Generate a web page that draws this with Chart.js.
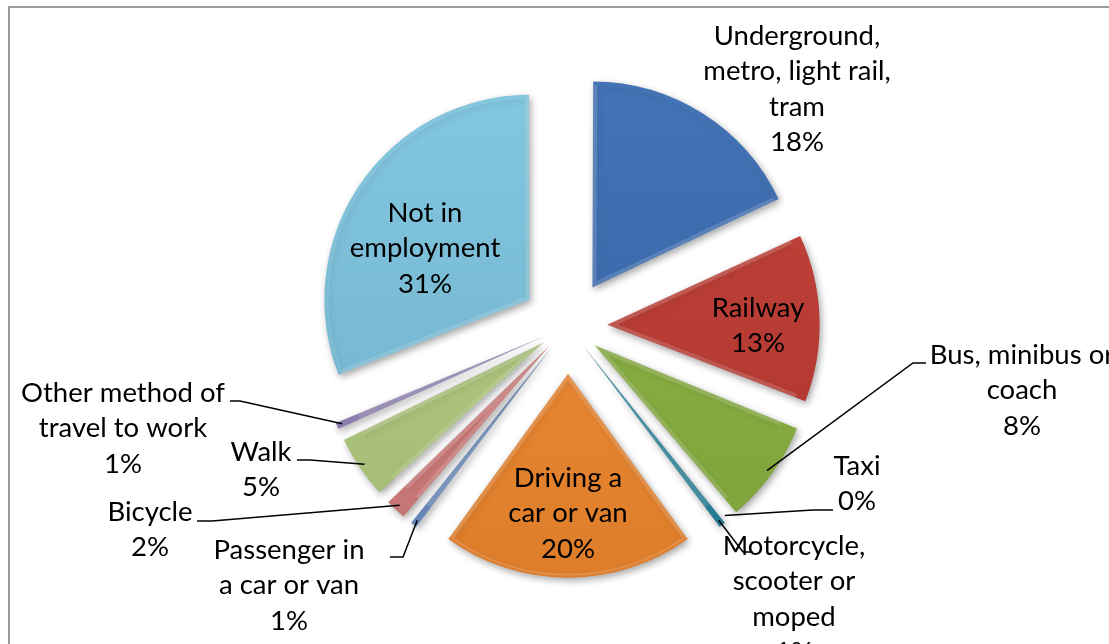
<!DOCTYPE html>
<html lang="en">
<head>
<meta charset="UTF-8">
<title>Method of travel to work</title>
<script src="https://cdn.jsdelivr.net/npm/chart.js"></script>
<style>
  html, body { margin: 0; padding: 0; background: #fff; overflow: hidden; }
  #wrap { position: relative; width: 1109px; height: 644px; }
  #frame { position: absolute; left: 8px; top: 6px; width: 1200px; height: 800px; border: 2px solid #9a9a9a; }
  #chart { position: absolute; left: 0; top: 0; }
</style>
</head>
<body>
<div id="wrap">
  <div id="frame"></div>
  <canvas id="chart" width="1109" height="644"></canvas>
</div>
<script>
// data, clockwise from 12 o'clock
const categories = [
  'Underground, metro, light rail, tram', 'Railway', 'Bus, minibus or coach', 'Taxi',
  'Motorcycle, scooter or moped', 'Driving a car or van', 'Passenger in a car or van',
  'Bicycle', 'Walk', 'Other method of travel to work', 'Not in employment'
];
const shares = [18, 13, 8, 0, 1, 20, 1, 2, 5, 1, 31];
const labelLines = [
  ['Underground,', 'metro, light rail,', 'tram'], ['Railway'], ['Bus, minibus or', 'coach'], ['Taxi'],
  ['Motorcycle,', 'scooter or', 'moped'], ['Driving a', 'car or van'], ['Passenger in', 'a car or van'],
  ['Bicycle'], ['Walk'], ['Other method of', 'travel to work'], ['Not in', 'employment']
];
const colours = ['#396cb3', '#bf3931', '#8ab23e', '#7f60a8', '#23859f', '#f2882c',
                 '#6c8fc6', '#d67e7c', '#b2cc7e', '#9484b8', '#7cc4df'];

// label placement: centre x, first line y, label-side leader points (null = inside slice)
const labelLayout = [
  {x: 797, y: 36, leader: null},
  {x: 758, y: 308, leader: null},
  {x: 1022, y: 355, leader: [[926, 363], [913, 363]]},
  {x: 857, y: 466, leader: [[833, 510], [813, 510]]},
  {x: 794, y: 546, leader: [[753, 552], [743, 552]]},
  {x: 568, y: 478, leader: null},
  {x: 289, y: 550, leader: [[390, 557], [403, 557]]},
  {x: 150, y: 512, leader: [[197, 521], [212, 521]]},
  {x: 261, y: 452, leader: [[297, 460], [310, 460]]},
  {x: 123, y: 393, leader: [[230, 401], [240, 401]]},
  {x: 425, y: 213, leader: null}
];
const lineHeight = 35.5;
const EXPLODE = 50;

function shade(hex, amt) {
  const n = parseInt(hex.slice(1), 16);
  let r = n >> 16, g = (n >> 8) & 255, b = n & 255;
  const f = c => Math.round(amt >= 0 ? c + (255 - c) * amt : c * (1 + amt));
  return `rgb(${f(r)},${f(g)},${f(b)})`;
}

// make every slice move out by the same distance
function sliceOffset(ctx) {
  const total = shares.reduce((a, b) => a + b, 0);
  const circ = (ctx.raw / total) * Math.PI * 2;
  return EXPLODE * 4 / (2 - Math.sin(Math.min(Math.PI, circ)));
}

const shadowPlugin = {
  id: 'shadow',
  beforeDatasetsDraw(chart) {
    const c = chart.ctx;
    c.save();
    c.shadowColor = 'rgba(0,0,0,0.35)';
    c.shadowBlur = 7;
    c.shadowOffsetX = 2;
    c.shadowOffsetY = 3;
  },
  afterDatasetsDraw(chart) {
    chart.ctx.restore();
  }
};

const labelPlugin = {
  id: 'sliceLabels',
  afterDraw(chart) {
    const c = chart.ctx;
    const arcs = chart.getDatasetMeta(0).data;
    c.save();
    c.fillStyle = '#000';
    c.strokeStyle = '#000';
    c.lineWidth = 1.5;
    c.font = '27.5px Lato';
    c.textAlign = 'center';
    c.textBaseline = 'middle';
    arcs.forEach((arc, i) => {
      const L = labelLayout[i];
      const lines = labelLines[i].concat([shares[i] + '%']);
      lines.forEach((t, j) => c.fillText(t, L.x, L.y + j * lineHeight));
      if (L.leader) {
        const p = arc.getProps(['x', 'y', 'startAngle', 'endAngle', 'outerRadius', 'circumference'], true);
        const mid = (p.startAngle + p.endAngle) / 2;
        const off = arc.options.offset / 4 * (2 - Math.sin(Math.min(Math.PI, p.circumference)));
        const r = off + p.outerRadius * 0.97;
        const ax = p.x + Math.cos(mid) * r, ay = p.y + Math.sin(mid) * r;
        c.beginPath();
        c.moveTo(L.leader[0][0], L.leader[0][1]);
        c.lineTo(L.leader[1][0], L.leader[1][1]);
        c.lineTo(ax, ay);
        c.stroke();
      }
    });
    c.restore();
  }
};

new Chart(document.getElementById('chart'), {
  type: 'pie',
  data: {
    labels: categories,
    datasets: [{
      data: shares,
      radius: 202,
      clip: false,
      offset: sliceOffset,
      borderWidth: 4,
      borderAlign: 'inner',
      borderColor: 'rgba(255,255,255,0.16)',
      backgroundColor: ctx => {
        const base = colours[ctx.dataIndex];
        const g = ctx.chart.ctx.createLinearGradient(0, 80, 0, 600);
        g.addColorStop(0, shade(base, 0.06));
        g.addColorStop(1, shade(base, -0.1));
        return g;
      }
    }]
  },
  options: {
    responsive: false,
    animation: false,
    layout: { padding: { left: 27, top: 8, right: 0, bottom: 0 } },
    plugins: {
      legend: { display: false },
      tooltip: { enabled: false }
    }
  },
  plugins: [shadowPlugin, labelPlugin]
});
</script>
</body>
</html>
